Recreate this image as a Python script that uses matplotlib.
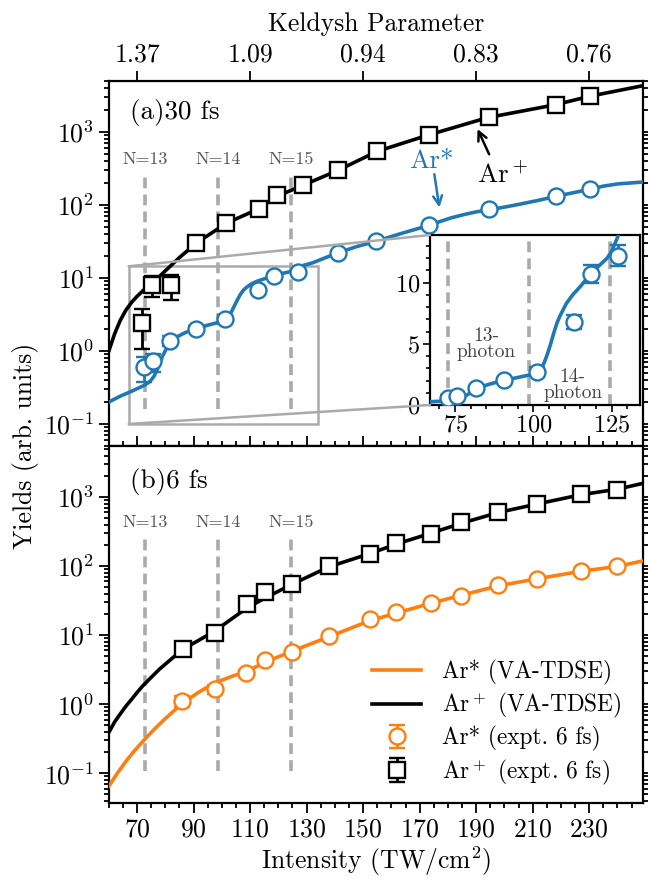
import numpy as np
import matplotlib
matplotlib.use("Agg")
import matplotlib.pyplot as plt
from matplotlib.patches import Rectangle, ConnectionPatch
from matplotlib.ticker import MultipleLocator, LogLocator, NullFormatter

plt.rcParams["font.family"] = "serif"
plt.rcParams["font.serif"] = ["cmr10", "DejaVu Serif"]
plt.rcParams["mathtext.fontset"] = "cm"
plt.rcParams["axes.formatter.use_mathtext"] = True
plt.rcParams["axes.unicode_minus"] = False

BLUE = "#1f77b4"
ORANGE = "#ff7f0e"
GRAY = "#aaaaaa"

# ---- panel (a): 30 fs ----
a_tdse_ion_x = [60, 62, 64, 66, 68, 70, 73, 76.8, 80, 85, 91, 101.6, 113, 119.4, 128.7, 141, 155, 173, 194, 218, 230, 249]
a_tdse_ion_y = [1.0, 1.7, 2.6, 3.6, 4.6, 5.6, 7.2, 9.5, 12.5, 19, 30, 56, 88, 130, 185, 295, 540, 900, 1560, 2340, 3050, 4270]

a_tdse_exc_x = [60, 64, 68, 72.7, 74.5, 76, 77.5, 79, 80.5, 82, 84, 87, 90.7, 95, 99.5, 101.5,
                102.5, 103.5, 104.5, 105.5, 106.5, 107.5, 108.5, 109.5, 110.5, 112.5, 115, 118.2,
                121, 123.5, 125, 126.5, 128, 132, 141, 148, 155, 163, 170, 176, 181, 186, 190,
                195, 200, 206, 212, 218, 225, 230, 235, 240, 249]
a_tdse_exc_y = [0.20, 0.24, 0.28, 0.34, 0.38, 0.45, 0.6, 0.85, 1.1, 1.33, 1.55, 1.78, 2.02, 2.25,
                2.50, 2.75, 3.0, 3.5, 4.2, 5.0, 5.9, 6.7, 7.3, 7.8, 8.3, 9.0, 9.7, 10.7,
                11.4, 12.0, 12.6, 13.5, 14.5, 16.0, 22, 27, 32, 40, 48, 57, 66, 74, 80,
                86, 93, 103, 115, 130, 148, 163, 180, 193, 205]

a_expt_ion_x = [71.9, 75.3, 81.9, 91, 101.6, 113.1, 119.4, 128.7, 141, 154.8, 173.2, 194.4, 218.2, 230.3]
a_expt_ion_y = [2.4, 8.0, 8.0, 30, 57, 88, 136, 185, 297, 547, 906, 1570, 2340, 3050]
a_expt_ion_err = [1.35, 2.5, 3.0, 0, 0, 0, 0, 0, 0, 0, 0, 0, 0, 0]

a_expt_exc_x = [72.6, 75.7, 81.8, 90.7, 101.2, 112.8, 118.5, 127.1, 141, 154.6, 173.2, 194.6, 218.2, 230.2]
a_expt_exc_y = [0.6, 0.72, 1.38, 2.02, 2.72, 6.8, 10.7, 12.2, 22, 32.4, 52.6, 88, 132, 163]
a_expt_exc_err = [0.22, 0.2, 0.2, 0.15, 0.35, 0.55, 0.75, 0.85, 0, 0, 0, 0, 0, 0]

# ---- panel (b): 6 fs ----
b_tdse_ion_x = [60, 62, 64, 66, 68, 70, 72, 75, 78, 82, 86, 92, 97.5, 109, 115, 125, 138, 152, 162, 174, 185, 198, 212, 227, 240, 249]
b_tdse_ion_y = [0.39, 0.55, 0.72, 0.93, 1.17, 1.48, 1.84, 2.45, 3.24, 4.47, 6.2, 8.5, 11.5, 25, 34, 55, 98, 150, 210, 300, 420, 600, 800, 1080, 1300, 1580]

b_tdse_exc_x = [60, 63, 66, 69, 72.7, 76, 80, 84, 88, 92, 97.5, 104, 109, 115, 125, 138, 152, 162, 174, 185, 198, 212, 227, 240, 249]
b_tdse_exc_y = [0.065, 0.1, 0.148, 0.21, 0.31, 0.43, 0.62, 0.87, 1.17, 1.51, 2.04, 2.57, 3.0, 4.0, 5.9, 9.5, 16, 21, 29, 38, 52, 66, 84, 99, 119]

b_expt_ion_x = [86.3, 97.5, 109, 115.4, 124.8, 137.8, 152.5, 161.7, 174, 184.7, 197.8, 211.6, 227, 240]
b_expt_ion_y = [6.3, 10.9, 28.1, 42.4, 54.8, 101, 149, 215, 290, 430, 600, 800, 1097, 1265]

b_expt_exc_x = [86, 97.5, 108.7, 115.4, 124.8, 137.8, 152.5, 161.7, 174, 184.7, 197.8, 211.6, 227, 240]
b_expt_exc_y = [1.12, 1.65, 2.8, 4.4, 5.7, 9.6, 17, 21.3, 29, 37, 53, 66, 84, 99]
b_expt_exc_err = [0.2, 0.25, 0.3, 0.4, 0.3, 0, 0, 0, 0, 0, 0, 0, 0, 0]

# channel closings
n_photon = [13, 14, 15]
n_intensity = [72.7, 98.6, 124.4]

keldysh_ticks = [70, 110, 150, 190, 230]
keldysh_labels = ["1.37", "1.09", "0.94", "0.83", "0.76"]

FS = 18.5

fig = plt.figure(figsize=(6.48, 8.81), dpi=100)
ax_a = fig.add_axes([0.168, 0.4938, 0.824, 0.4146])
ax_b = fig.add_axes([0.168, 0.0885, 0.824, 0.4053])

lw = 2.6
msz = 11.5
dash = (0, (3, 1.7))
ebkw = dict(mew=1.7, capsize=5.5, elinewidth=2, capthick=2, zorder=5)

for ax in (ax_a, ax_b):
    ax.set_yscale("log")
    ax.set_xlim(60, 249)
    ax.set_xticks(np.arange(70, 249, 20))
    ax.xaxis.set_minor_locator(MultipleLocator(5))
    ax.yaxis.set_major_locator(LogLocator(base=10, numticks=12))
    ax.yaxis.set_minor_locator(LogLocator(base=10, subs=np.arange(2, 10), numticks=12))
    ax.yaxis.set_minor_formatter(NullFormatter())
    ax.tick_params(which="both", direction="out", right=True, labelsize=FS, width=1.3)
    ax.tick_params(which="major", length=7)
    ax.tick_params(which="minor", length=3.5)
    for s in ax.spines.values():
        s.set_linewidth(1.6)

ax_a.set_ylim(0.05, 5000)
ax_b.set_ylim(0.037, 5500)
ax_a.tick_params(which="both", bottom=False, labelbottom=False)
ax_b.tick_params(which="both", top=True)

# ---------- panel (a) ----------
ax_a.plot(a_tdse_ion_x, a_tdse_ion_y, color="black", lw=lw, zorder=3)
ax_a.plot(a_tdse_exc_x, a_tdse_exc_y, color=BLUE, lw=lw, zorder=3)
ax_a.errorbar(a_expt_ion_x, a_expt_ion_y, yerr=a_expt_ion_err, fmt="s", color="black",
              mfc="white", mec="black", ms=msz, **ebkw)
ax_a.errorbar(a_expt_exc_x, a_expt_exc_y, yerr=a_expt_exc_err, fmt="o", color=BLUE,
              mfc="white", mec=BLUE, ms=msz, **ebkw)

for n, xi in zip(n_photon, n_intensity):
    ax_a.axvline(xi, ymin=0.10, ymax=0.75, color=GRAY, lw=2.6, ls=dash, zorder=1)
    ax_a.text(xi, 330, f"N={n}", color="#555555", fontsize=13, ha="center", va="bottom")
    ax_b.axvline(xi, ymin=0.09, ymax=0.745, color=GRAY, lw=2.6, ls=dash, zorder=1)
    ax_b.text(xi, 330, f"N={n}", color="#555555", fontsize=13, ha="center", va="bottom")

ax_a.text(0.04, 0.912, "(a)30 fs", transform=ax_a.transAxes, fontsize=FS + 1, va="center")
ax_b.text(0.04, 0.9, "(b)6 fs", transform=ax_b.transAxes, fontsize=FS + 1, va="center")

# arrows and labels for the two species
arrow_kw = dict(arrowstyle="->", lw=1.8, shrinkA=0, shrinkB=0, mutation_scale=16)
ax_a.text(174, 400, "Ar*", color=BLUE, fontsize=FS + 1, ha="center", va="center")
ax_a.annotate("", xy=(177, 92), xytext=(175.2, 262), arrowprops=dict(color=BLUE, **arrow_kw))
ax_a.text(199.5, 262, "Ar$^+$", color="black", fontsize=FS + 1, ha="center", va="center")
ax_a.annotate("", xy=(190.5, 1090), xytext=(194.6, 492), arrowprops=dict(color="black", **arrow_kw))

# top axis: Keldysh parameter
top = ax_a.secondary_xaxis("top")
top.set_xticks(keldysh_ticks)
top.set_xticklabels(keldysh_labels)
top.xaxis.set_minor_locator(MultipleLocator(1000))
top.tick_params(direction="out", length=7, width=1.3, labelsize=FS)
top.set_xlabel("Keldysh Parameter", fontsize=FS, labelpad=8)

# inset zoom
ins = fig.add_axes([430 / 648, 1 - 405 / 881, 210 / 648, 170 / 881])
ins.set_xlim(67, 134)
ins.set_ylim(0, 13.9)
ins.plot(a_tdse_exc_x, a_tdse_exc_y, color=BLUE, lw=lw, zorder=3)
ins.errorbar(a_expt_exc_x, a_expt_exc_y, yerr=a_expt_exc_err, fmt="o", color=BLUE,
             mfc="white", mec=BLUE, ms=msz, **ebkw)
for xi in n_intensity:
    ins.axvline(xi, color=GRAY, lw=2.6, ls=dash, zorder=1)
ins.text(85.0, 5.0, "13-\nphoton", fontsize=14, color="#444444", ha="center", va="center", linespacing=0.85)
ins.text(112.5, 1.6, "14-\nphoton", fontsize=14, color="#444444", ha="center", va="center", linespacing=0.85)
ins.set_xticks([75, 100, 125])
ins.set_yticks([0, 5, 10])
ins.xaxis.set_minor_locator(MultipleLocator(5))
ins.yaxis.set_minor_locator(MultipleLocator(1))
ins.tick_params(which="both", direction="out", labelsize=FS - 1, width=1.2, pad=2)
ins.tick_params(which="major", length=5)
ins.tick_params(which="minor", length=3)
for s in ins.spines.values():
    s.set_linewidth(1.6)

x0, x1 = ins.get_xlim()
ax_a.add_patch(Rectangle((x0, 0.1), x1 - x0, 14.4 - 0.1, fill=False, ec=GRAY, lw=1.8, zorder=2))
for (yy, fy) in ((14.4, 1), (0.1, 0)):
    con = ConnectionPatch(xyA=(x0, yy), coordsA=ax_a.transData, xyB=(0, fy), coordsB=ins.transAxes,
                          color=GRAY, lw=1.8, zorder=2)
    fig.add_artist(con)

# ---------- panel (b) ----------
ax_b.plot(b_tdse_exc_x, b_tdse_exc_y, color=ORANGE, lw=lw, zorder=3, label="Ar* (VA-TDSE)")
ax_b.plot(b_tdse_ion_x, b_tdse_ion_y, color="black", lw=lw, zorder=3, label="Ar$^+$ (VA-TDSE)")
ax_b.errorbar(b_expt_exc_x, b_expt_exc_y, yerr=b_expt_exc_err, fmt="o", color=ORANGE,
              mfc="white", mec=ORANGE, ms=msz, label="Ar* (expt. 6 fs)", **ebkw)
ax_b.errorbar(b_expt_ion_x, b_expt_ion_y, yerr=[0.3] * len(b_expt_ion_x), fmt="s", color="black",
              mfc="white", mec="black", ms=msz, label="Ar$^+$ (expt. 6 fs)", **ebkw)
ax_b.legend(loc="lower right", bbox_to_anchor=(0.978, 0.02), frameon=False, fontsize=16.8,
            handlelength=2.1, handletextpad=0.9, borderaxespad=0.0, labelspacing=0.25)

ax_b.set_xlabel("Intensity (TW/cm$^2$)", fontsize=FS, labelpad=2)
fig.text(0.04, 0.4938, "Yields (arb. units)", rotation=90, fontsize=FS, va="center", ha="center")

fig.savefig("out.png", dpi=100)
